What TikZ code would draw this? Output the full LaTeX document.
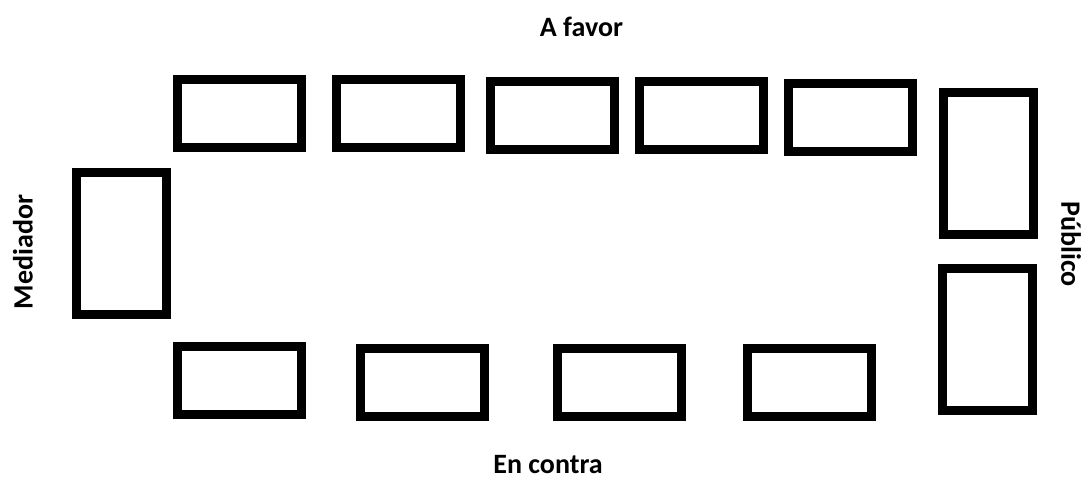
\documentclass[tikz,border=0pt]{standalone}
\usepackage{fontspec}
\setmainfont{Carlito}

\tikzset{
  mesa/.style={draw,line width=9pt,minimum width=124pt,minimum height=68pt,inner sep=0pt},
  mesav/.style={draw,line width=9pt,minimum width=90pt,minimum height=142pt,inner sep=0pt},
  rotulo/.style={font=\bfseries\fontsize{28}{28}\selectfont,inner sep=0pt}
}

\begin{document}
\begin{tikzpicture}[x=1pt,y=-1pt]
 \useasboundingbox (0,0) rectangle (1084,482);

 % a favor
 \node [mesa] (t1) at (239.5,113.5) {};
 \node [mesa] (t2) at (398,113.5) {};
 \node [mesa] (t3) at (552.5,115.5) {};
 \node [mesa] (t4) at (701,115.5) {};
 \node [mesa] (t5) at (850,117.5) {};
 \node [rotulo] (favor) at (581.5,27) {A favor};

 % en contra
 \node [mesa] (b1) at (239.5,380.5) {};
 \node [mesa] (b2) at (422.5,382) {};
 \node [mesa] (b3) at (619.5,382) {};
 \node [mesa] (b4) at (809,382) {};
 \node [rotulo] (contra) at (548,465) {En contra};

 % mediador y publico
 \node [mesav] (med) at (121.5,243.5) {};
 \node [rotulo,rotate=90] (mediador) at (23,252) {Mediador};
 \node [mesav] (p1) at (988.5,163.5) {};
 \node [mesav] (p2) at (987,339) {};
 \node [rotulo,rotate=-90] (publico) at (1071,244) {Público};

\end{tikzpicture}
\end{document}
